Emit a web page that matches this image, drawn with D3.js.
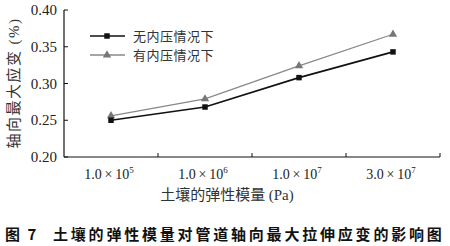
<!DOCTYPE html>
<html>
<head>
<meta charset="utf-8">
<script src="https://cdn.jsdelivr.net/npm/d3@7"></script>
<style>
  body { margin: 0; background: #fff; }
  svg { display: block; }
</style>
</head>
<body>
<svg width="450" height="246"></svg>
<script>
// categories: soil elastic modulus (Pa), shown as mantissa × 10^exp
const categories = ["1e5", "1e6", "1e7", "3e7"];
const tickMant = ["1.0", "1.0", "1.0", "3.0"];
const tickExp = ["5", "6", "7", "7"];

const seriesNames = ["无内压情况下", "有内压情况下"];
const noPressure = [0.250, 0.268, 0.308, 0.343];
const withPressure = [0.256, 0.279, 0.324, 0.367];
const yTicks = [0.20, 0.25, 0.30, 0.35, 0.40];

const serif = "'Liberation Serif', 'DejaVu Serif', serif";
const cjk = "'Noto Sans CJK SC', sans-serif";

const svg = d3.select("svg");
const plotL = 64, plotR = 440, plotT = 10, plotB = 157;

const x = d3.scaleBand().domain(categories).range([plotL, plotR]);
const y = d3.scaleLinear().domain([0.2, 0.4]).range([plotB, plotT]);

// axes lines
svg.append("line")
  .attr("x1", plotL).attr("x2", plotL).attr("y1", plotT).attr("y2", plotB)
  .attr("stroke", "#111").attr("stroke-width", 1.2);
svg.append("line")
  .attr("x1", plotL).attr("x2", plotR).attr("y1", plotB).attr("y2", plotB)
  .attr("stroke", "#111").attr("stroke-width", 1.2);

// y ticks (inside) and labels
const yG = svg.append("g");
yG.selectAll("line").data(yTicks).enter().append("line")
  .attr("x1", plotL).attr("x2", plotL + 4)
  .attr("y1", d => y(d)).attr("y2", d => y(d))
  .attr("stroke", "#111");
yG.selectAll("text").data(yTicks).enter().append("text")
  .attr("x", plotL - 7).attr("y", d => y(d) + 5)
  .attr("text-anchor", "end")
  .style("font-family", serif).style("font-size", "15px").style("fill", "#222")
  .text(d => d.toFixed(2));

// x ticks at band boundaries (inside)
const bounds = categories.slice(1).map(c => x(c)).concat([plotR]);
svg.append("g").selectAll("line").data(bounds).enter().append("line")
  .attr("x1", d => d).attr("x2", d => d)
  .attr("y1", plotB).attr("y2", plotB - 4)
  .attr("stroke", "#111");

// x tick labels with superscript
const xl = svg.append("g").selectAll("text").data(categories).enter().append("text")
  .attr("x", d => x(d) + x.bandwidth() / 2 - 2)
  .attr("y", 179)
  .attr("text-anchor", "middle")
  .style("font-family", serif).style("font-size", "14px").style("fill", "#222")
  .text((d, i) => tickMant[i] + "\u2009×\u200910");
xl.append("tspan").attr("dy", -6).style("font-size", "9px").text((d, i) => tickExp[i]);

// axis titles
svg.append("text")
  .attr("x", 227).attr("y", 200).attr("text-anchor", "middle")
  .style("font-size", "15px").style("fill", "#333")
  .call(t => {
    t.append("tspan").style("font-family", cjk).text("土壤的弹性模量 ");
    t.append("tspan").style("font-family", serif).text("(Pa)");
  });
svg.append("text")
  .attr("transform", "translate(19,83) rotate(-90)")
  .attr("text-anchor", "middle")
  .style("font-size", "15px").style("fill", "#333").style("letter-spacing", "1.5px")
  .call(t => {
    t.append("tspan").style("font-family", cjk).text("轴向最大应变 ");
    t.append("tspan").style("font-family", serif).text("(%)");
  });

// lines
const cx = d => x(d) + x.bandwidth() / 2;
const line = d3.line().x(d => cx(d.c)).y(d => y(d.v));
const s1 = categories.map((c, i) => ({ c, v: noPressure[i] }));
const s2 = categories.map((c, i) => ({ c, v: withPressure[i] }));

svg.append("path").datum(s2).attr("d", line)
  .attr("fill", "none").attr("stroke", "#888").attr("stroke-width", 1.3);
svg.append("path").datum(s1).attr("d", line)
  .attr("fill", "none").attr("stroke", "#111").attr("stroke-width", 1.6);

const tri = d3.symbol().type(d3.symbolTriangle).size(30);
const sq = d3.symbol().type(d3.symbolSquare).size(30);

svg.append("g").selectAll("path").data(s2).enter().append("path")
  .attr("d", tri).attr("fill", "#777")
  .attr("transform", d => `translate(${cx(d.c)},${y(d.v)})`);
svg.append("g").selectAll("path").data(s1).enter().append("path")
  .attr("d", sq).attr("fill", "#111")
  .attr("transform", d => `translate(${cx(d.c)},${y(d.v)})`);

// legend
const legend = svg.append("g");
[[0, "#111", sq, 1.6], [1, "#888", tri, 1.3]].forEach(([i, col, sym, w]) => {
  const ly = 36 + i * 19;
  legend.append("line").attr("x1", 90).attr("x2", 125).attr("y1", ly).attr("y2", ly)
    .attr("stroke", col).attr("stroke-width", w);
  legend.append("path").attr("d", sym).attr("fill", i ? "#777" : "#111")
    .attr("transform", `translate(107,${ly})`);
  legend.append("text").attr("x", 133).attr("y", ly + 4.5)
    .style("font-family", cjk).style("font-size", "13px").style("fill", "#333")
    .style("letter-spacing", "0.5px")
    .text(seriesNames[i]);
});

// caption
svg.append("text").attr("x", 5).attr("y", 240)
  .style("font-family", cjk).style("font-size", "15px").style("font-weight", "bold")
  .style("fill", "#111").style("letter-spacing", "2px")
  .text("图 7");
svg.append("text").attr("x", 53).attr("y", 240)
  .style("font-family", cjk).style("font-size", "15px").style("font-weight", "bold")
  .style("letter-spacing", "2.8px").style("fill", "#111")
  .text("土壤的弹性模量对管道轴向最大拉伸应变的影响图");
</script>
</body>
</html>
